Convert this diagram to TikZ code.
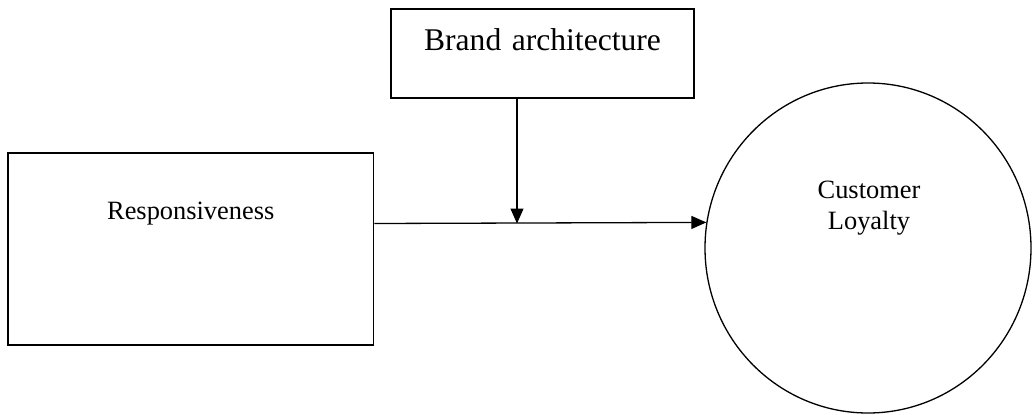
\documentclass[tikz,border=0pt]{standalone}
\usepackage{fontspec}
\setmainfont{Liberation Serif}
\usetikzlibrary{arrows.meta,positioning,shapes.geometric}

\begin{document}
\begin{tikzpicture}[x=0.5pt,y=0.5pt]
    \tikzset{block/.style= {draw, rectangle
    , line width=0.85pt
    , inner sep=0pt
    , align=center
    , anchor=base
      }
    , bubble/.style= {draw, ellipse
    , line width=0.65pt
    , inner sep=0pt
    , minimum width=163pt
    , minimum height=165pt
      }
    , link/.style= {draw, line width=0.65pt
    , -{Triangle[length=7.5pt,width=6.5pt]}
      }
    }

\useasboundingbox (0,0) rectangle (1033,414);

\node [block, text width=182.75pt, text height=33pt, text depth=63pt
      , font=\fontsize{13.2pt}{15.5pt}\selectfont] (resp) at (190.75,195) {Responsiveness};
\node [block, text width=151.5pt, text height=20.5pt, text depth=24pt
      , font=\fontsize{15.8pt}{18pt}\selectfont] (brand) at (542.5,364) {Brand architecture};
\node [bubble] (loyalty) at (868,166) {};
\node [align=center, inner sep=0pt
      , font=\fontsize{13.2pt}{15.5pt}\selectfont] (loyaltytext) at (869,206) {Customer\\Loyalty};

\coordinate (meet) at (517,190.5);

 \path[link] (resp.east |- meet) -- (loyalty.171.5);
 \path[link] (meet |- brand.south) -- (meet);
\end{tikzpicture}
\end{document}
